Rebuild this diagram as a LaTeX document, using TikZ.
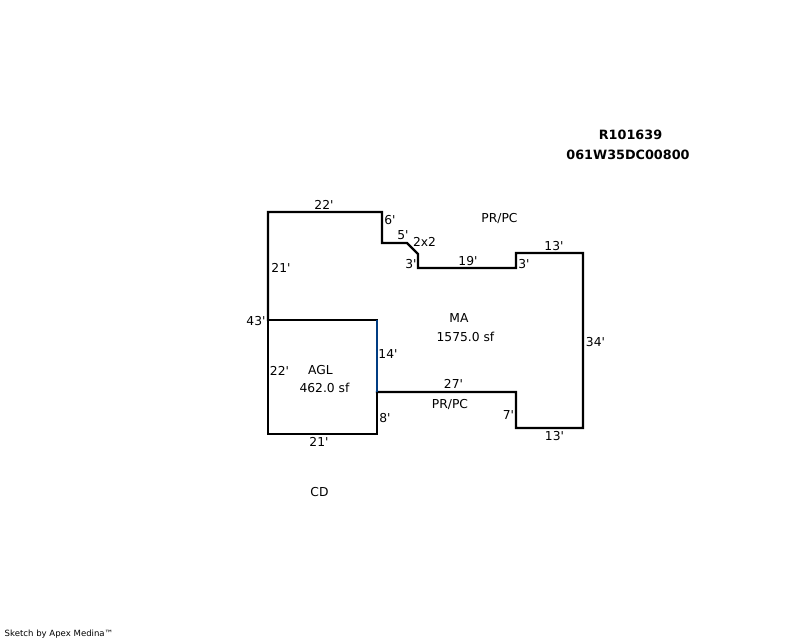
\documentclass[tikz,border=0pt]{standalone}
\usepackage{fontspec}
\newfontfamily\skfont{DejaVu Sans}
\tikzset{
  wall/.style={draw=black,line width=2.2pt,line cap=rect,line join=miter},
  lbl/.style={inner sep=0pt,font=\skfont\fontsize{12.3}{14}\selectfont,text=black},
  ttl/.style={inner sep=0pt,font=\skfont\fontsize{12.8}{14}\selectfont\bfseries,text=black},
  foot/.style={inner sep=0pt,font=\skfont\fontsize{8.55}{10}\selectfont,text=black}
}
\begin{document}
\begin{tikzpicture}[x=1pt,y=-1pt]
\useasboundingbox (0,0) rectangle (800,640);
\fill[white] (0,0) rectangle (800,640);
\draw[wall] (268,320) -- (268,212) -- (382,212) -- (382,243) -- (407,243) -- (418,254) -- (418,268) -- (516,268) -- (516,253) -- (583,253) -- (583,428) -- (516,428) -- (516,392) -- (377,392);
\draw[wall] (268,320) -- (377,320);
\draw[wall] (377,392) -- (377,434) -- (268,434) -- (268,320);
\draw[draw={rgb,255:red,0;green,60;blue,130},line width=2.2pt] (377,320) -- (377,392);
\node[ttl] (t1) at (630.5,135) {R101639};
\node[ttl] (t2) at (628,155) {061W35DC00800};
\node[lbl] (a) at (324,205) {22'};
\node[lbl] (b) at (390,220) {6'};
\node[lbl] (c) at (403,235) {5'};
\node[lbl] (d) at (424.5,242) {2x2};
\node[lbl] (e) at (411,264) {3'};
\node[lbl] (f) at (468,261) {19'};
\node[lbl] (g) at (524,264) {3'};
\node[lbl] (h) at (554,246) {13'};
\node[lbl] (i) at (499.5,219) {PR/PC};
\node[lbl] (j) at (281,268) {21'};
\node[lbl] (k) at (256,321) {43'};
\node[lbl] (l) at (459,318) {MA};
\node[lbl] (m) at (465.5,337) {1575.0 sf};
\node[lbl] (n) at (595.5,342) {34'};
\node[lbl] (o) at (388,354) {14'};
\node[lbl] (p) at (279.5,371) {22'};
\node[lbl] (q) at (320.5,370) {AGL};
\node[lbl] (r) at (324.5,388) {462.0 sf};
\node[lbl] (s) at (453.5,384) {27'};
\node[lbl] (u) at (450,404) {PR/PC};
\node[lbl] (v) at (385,418) {8'};
\node[lbl] (w) at (508.5,415) {7'};
\node[lbl] (x) at (554.5,436) {13'};
\node[lbl] (y) at (319,442) {21'};
\node[lbl] (z) at (319.5,492) {CD};
\node[foot] (ft) at (59,634) {Sketch by Apex Medina™};
\end{tikzpicture}
\end{document}
